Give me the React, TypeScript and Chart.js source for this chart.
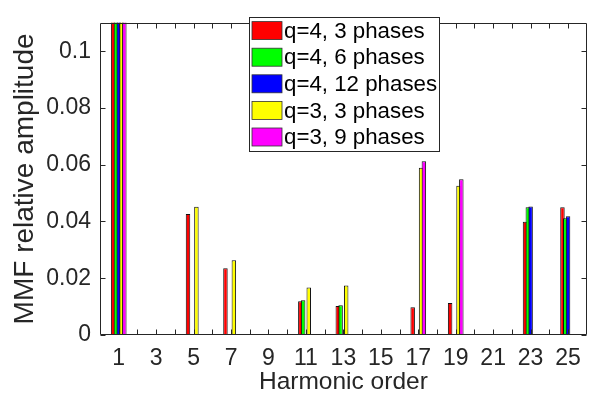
import React, { useEffect, useRef } from 'react';
import { Chart, registerables } from 'chart.js';

Chart.register(...registerables);

// ---- data ----
const harmonicOrders = [1, 3, 5, 7, 9, 11, 13, 15, 17, 19, 21, 23, 25];
const seriesLabels = ['q=4, 3 phases', 'q=4, 6 phases', 'q=4, 12 phases', 'q=3, 3 phases', 'q=3, 9 phases'];
const seriesColors = ['#ff0000', '#00ff00', '#0000ff', '#ffff00', '#ff00ff'];
const q4p3 = [1, 0, 0.0426, 0.0235, 0, 0.0119, 0.0102, 0, 0.0098, 0.0113, 0, 0.0399, 0.045];
const q4p6 = [1, 0, 0, 0, 0, 0.0122, 0.0105, 0, 0, 0, 0, 0.045, 0.0411];
const q4p12 = [1, 0, 0, 0, 0, 0, 0, 0, 0, 0, 0, 0.0453, 0.0418];
const q3p3 = [1, 0, 0.0452, 0.0263, 0, 0.0167, 0.0174, 0, 0.0589, 0.0526, 0, 0, 0];
const q3p9 = [1, 0, 0, 0, 0, 0, 0, 0, 0.0612, 0.0549, 0, 0, 0];
const seriesValues = [q4p3, q4p6, q4p12, q3p3, q3p9];
const yTickValues = [0, 0.02, 0.04, 0.06, 0.08, 0.1];
const xRange = [0, 26];
const yRange = [0, 0.11];
const xTitle = 'Harmonic order';
const yTitle = 'MMF relative amplitude';

const FONT = '"Liberation Sans", Arial, Helvetica, sans-serif';
const AXIS_COLOR = '#262626';

// draw datasets first-to-last so later series overlap earlier ones (MATLAB style)
const forwardDrawPlugin = {
  id: 'forwardDraw',
  beforeDatasetsDraw(chart: any) {
    const { ctx, chartArea: a } = chart;
    const metas = chart.getSortedVisibleDatasetMetas();
    ctx.save();
    ctx.beginPath();
    ctx.rect(a.left, a.top, a.right - a.left, a.bottom - a.top);
    ctx.clip();
    metas.forEach((m: any) => m.controller.draw());
    ctx.restore();
    return false;
  },
};

const framePlugin = {
  id: 'matlabFrame',
  afterDraw(chart: any) {
    const { ctx, chartArea: a, scales } = chart;
    const xs = scales.x;
    const ys = scales.y;
    ctx.save();
    ctx.strokeStyle = AXIS_COLOR;
    ctx.lineWidth = 1;
    const L = Math.round(a.left) + 0.5;
    const R = Math.round(a.right) - 0.5;
    const T = Math.round(a.top) + 0.5;
    const B = Math.round(a.bottom) - 0.5;
    ctx.beginPath();
    ctx.rect(L, T, R - L, B - T);
    const tl = 5;
    for (let v = Math.ceil(xs.min) + 1; v < xs.max; v++) {
      const px = Math.round(xs.getPixelForValue(v)) + 0.5;
      ctx.moveTo(px, B);
      ctx.lineTo(px, B - tl);
      ctx.moveTo(px, T);
      ctx.lineTo(px, T + tl);
    }
    yTickValues.forEach((v) => {
      const py = Math.round(ys.getPixelForValue(v)) + 0.5;
      ctx.moveTo(L, py);
      ctx.lineTo(L + tl, py);
      ctx.moveTo(R, py);
      ctx.lineTo(R - tl, py);
    });
    ctx.stroke();
    ctx.restore();
  },
};

const legendPlugin = {
  id: 'boxLegend',
  afterDraw(chart: any) {
    const { ctx } = chart;
    const bx = 249;
    const by = 17;
    const bw = 190;
    const bh = 134;
    const rowH = 26.6;
    ctx.save();
    ctx.fillStyle = '#ffffff';
    ctx.fillRect(bx, by, bw, bh);
    ctx.strokeStyle = AXIS_COLOR;
    ctx.lineWidth = 1;
    ctx.strokeRect(bx + 0.5, by + 0.5, bw, bh);
    ctx.font = `22.3px ${FONT}`;
    ctx.textBaseline = 'middle';
    ctx.textAlign = 'left';
    chart.data.datasets.forEach((ds: any, i: number) => {
      const cy = by + 13.6 + i * rowH;
      ctx.fillStyle = ds.backgroundColor;
      ctx.fillRect(252, cy - 9, 30, 18);
      ctx.strokeStyle = '#333';
      ctx.lineWidth = 0.8;
      ctx.strokeRect(252, cy - 9, 30, 18);
      ctx.fillStyle = '#000';
      ctx.fillText(ds.label, 284, cy + 1);
    });
    ctx.restore();
  },
};

export default function App() {
  const ref = useRef<HTMLCanvasElement | null>(null);

  useEffect(() => {
    if (!ref.current) return;
    const datasets = seriesValues.map((vals, i) => ({
      label: seriesLabels[i],
      data: vals.map((y, j) => ({ x: harmonicOrders[j], y })),
      backgroundColor: seriesColors[i],
      borderColor: '#111111',
      borderWidth: 1,
      borderSkipped: 'start' as const,
      categoryPercentage: 0.374,
      barPercentage: 1.6,
    }));
    const chart = new Chart(ref.current, {
      type: 'bar',
      data: { datasets },
      options: {
        animation: false,
        responsive: false,
        devicePixelRatio: 1,
        layout: { padding: { top: 10, right: 4, left: 0, bottom: 0 } },
        plugins: { legend: { display: false }, tooltip: { enabled: false } },
        scales: {
          x: {
            type: 'linear',
            min: xRange[0],
            max: xRange[1],
            offset: false,
            grid: { display: false, drawTicks: false, offset: false },
            border: { display: false },
            afterBuildTicks: (s: any) => {
              s.ticks = harmonicOrders.map((v) => ({ value: v }));
            },
            afterFit: (s: any) => {
              s.height = 65;
            },
            ticks: {
              autoSkip: false,
              maxRotation: 0,
              padding: 10,
              color: AXIS_COLOR,
              font: { family: FONT, size: 23 },
              callback: (v: any) => String(v),
            },
            title: {
              display: true,
              text: xTitle,
              color: AXIS_COLOR,
              font: { family: FONT, size: 24.5, lineHeight: 1 },
              padding: { top: 0, bottom: 6 },
            },
          },
          y: {
            type: 'linear',
            min: yRange[0],
            max: yRange[1],
            grid: { display: false, drawTicks: false },
            border: { display: false },
            afterBuildTicks: (s: any) => {
              s.ticks = yTickValues.map((v) => ({ value: v }));
            },
            afterFit: (s: any) => {
              s.width = 100;
            },
            ticks: {
              padding: 9,
              color: AXIS_COLOR,
              font: { family: FONT, size: 23 },
              callback: (v: any) => String(v),
            },
            title: {
              display: true,
              text: yTitle,
              color: AXIS_COLOR,
              font: { family: FONT, size: 28, lineHeight: 1 },
              padding: { top: 11, bottom: 0 },
            },
          },
        },
      },
      plugins: [forwardDrawPlugin, framePlugin, legendPlugin],
    });
    return () => chart.destroy();
  }, []);

  return (
    <div style={{ position: 'absolute', left: 0, top: 0, width: 591, height: 400, background: '#fff' }}>
      <canvas ref={ref} width={591} height={400} style={{ width: 591, height: 400, display: 'block' }} />
    </div>
  );
}
